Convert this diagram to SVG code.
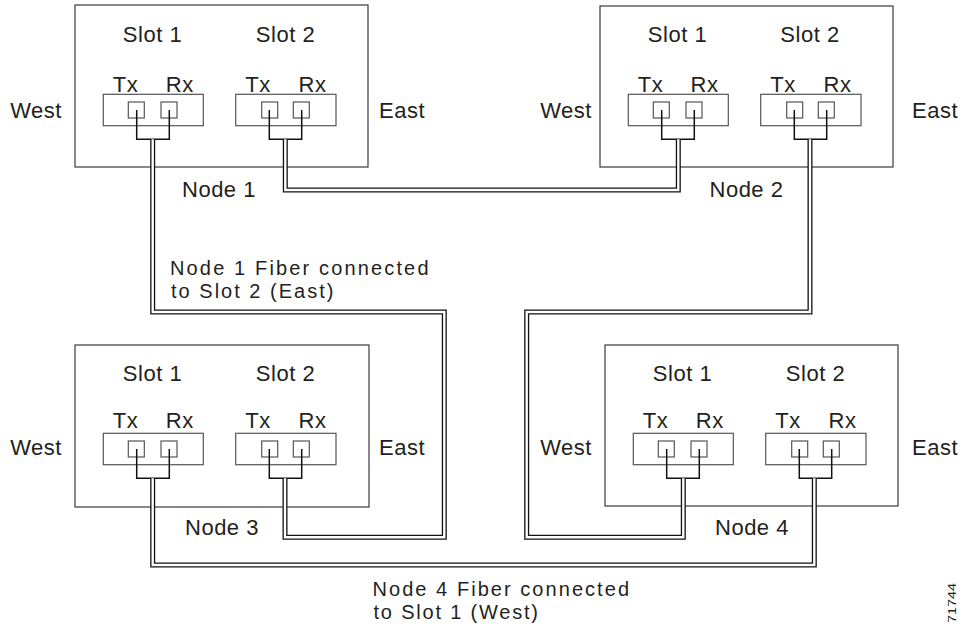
<svg xmlns="http://www.w3.org/2000/svg" width="962" height="629" viewBox="0 0 962 629">
<style>
text{font-family:"Liberation Sans",Arial,sans-serif;font-size:22px;fill:#231f20;letter-spacing:0.5px}
.m{text-anchor:middle}
.lb{font-size:20px}
.box{fill:none;stroke:#3a3a3a;stroke-width:1.2}
.port{fill:none;stroke:#555;stroke-width:1.2}
.sq{fill:none;stroke:#555;stroke-width:1.2}
.j{fill:none;stroke:#111;stroke-width:1.5}
.fo{fill:none;stroke:#111;stroke-width:5;stroke-linejoin:miter}
.fi{fill:none;stroke:#fff;stroke-width:2.4;stroke-linejoin:miter}
.id{font-size:11px;letter-spacing:0}
</style>
<rect width="962" height="629" fill="#fff"/>
<defs>
<g id="slotpair">
<rect class="port" x="28.3" y="89.3" width="100" height="31.4"/>
<rect class="sq" x="53.3" y="97" width="16" height="16"/>
<rect class="sq" x="86" y="97" width="16" height="16"/>
<path class="j" d="M61.7,105V134.3H94.3V105"/>
<rect class="port" x="160.7" y="89.3" width="100.3" height="31.4"/>
<rect class="sq" x="186.7" y="97" width="16" height="16"/>
<rect class="sq" x="218.3" y="97" width="16" height="16"/>
<path class="j" d="M194.3,105V134.3H226.7V105"/>
</g>
</defs>
<g id="node1">
<rect class="box" x="75" y="5" width="293" height="162"/>
<use href="#slotpair" x="75" y="5"/>
<text class="m" x="152.5" y="41.7">Slot 1</text>
<text class="m" x="285.5" y="41.7">Slot 2</text>
<text class="m" x="125.5" y="91.7">Tx</text>
<text class="m" x="179.7" y="91.7">Rx</text>
<text class="m" x="258" y="91.7">Tx</text>
<text class="m" x="312.5" y="91.7">Rx</text>
<text class="m" x="36" y="118.3">West</text>
<text class="m" x="402" y="118.3">East</text>
<text class="m" x="219" y="197">Node 1</text>
</g>
<g id="node2">
<rect class="box" x="600" y="6" width="293" height="161"/>
<use href="#slotpair" x="600" y="5"/>
<text class="m" x="677.5" y="41.7">Slot 1</text>
<text class="m" x="810" y="41.7">Slot 2</text>
<text class="m" x="650.5" y="91.7">Tx</text>
<text class="m" x="704.5" y="91.7">Rx</text>
<text class="m" x="783" y="91.7">Tx</text>
<text class="m" x="837.5" y="91.7">Rx</text>
<text class="m" x="566" y="118.3">West</text>
<text class="m" x="935" y="118.3">East</text>
<text class="m" x="746.5" y="197">Node 2</text>
</g>
<g id="node3">
<rect class="box" x="75" y="345" width="294" height="162"/>
<use href="#slotpair" x="75" y="344"/>
<text class="m" x="152.5" y="381">Slot 1</text>
<text class="m" x="285.5" y="381">Slot 2</text>
<text class="m" x="125.5" y="428.3">Tx</text>
<text class="m" x="179.7" y="428.3">Rx</text>
<text class="m" x="258" y="428.3">Tx</text>
<text class="m" x="312.5" y="428.3">Rx</text>
<text class="m" x="36" y="455">West</text>
<text class="m" x="402" y="455">East</text>
<text class="m" x="222" y="535">Node 3</text>
</g>
<g id="node4">
<rect class="box" x="605" y="345" width="293" height="161"/>
<use href="#slotpair" x="605" y="344"/>
<text class="m" x="682.5" y="381">Slot 1</text>
<text class="m" x="815.5" y="381">Slot 2</text>
<text class="m" x="655.5" y="428.3">Tx</text>
<text class="m" x="709.7" y="428.3">Rx</text>
<text class="m" x="788" y="428.3">Tx</text>
<text class="m" x="842.5" y="428.3">Rx</text>
<text class="m" x="566" y="455">West</text>
<text class="m" x="935" y="455">East</text>
<text class="m" x="752" y="535">Node 4</text>
</g>
<g id="connectors">
<path class="fo" d="M152.7,139.3V312H444.3V537.3H285V478.3"/>
<path class="fi" d="M152.7,139.3V312H444.3V537.3H285V478.3"/>
<path class="fo" d="M285.3,139.3V190H678.3V139.3"/>
<path class="fi" d="M285.3,139.3V190H678.3V139.3"/>
<path class="fo" d="M810,139.3V312H526.7V537.3H683.3V478.3"/>
<path class="fi" d="M810,139.3V312H526.7V537.3H683.3V478.3"/>
<path class="fo" d="M152.7,478.3V565H814.3V478.3"/>
<path class="fi" d="M152.7,478.3V565H814.3V478.3"/>
</g>
<g id="labels">
<text class="lb" x="170" y="275" textLength="259" lengthAdjust="spacing">Node 1 Fiber connected</text>
<text class="lb" x="171" y="297.5" textLength="163" lengthAdjust="spacing">to Slot 2 (East)</text>
<text class="lb" x="372.5" y="596" textLength="257" lengthAdjust="spacing">Node 4 Fiber connected</text>
<text class="lb" x="373.5" y="618.5" textLength="165" lengthAdjust="spacing">to Slot 1 (West)</text>
<text class="id" transform="translate(956,623) rotate(-90)" textLength="40" lengthAdjust="spacingAndGlyphs">71744</text>
</g>
</svg>
